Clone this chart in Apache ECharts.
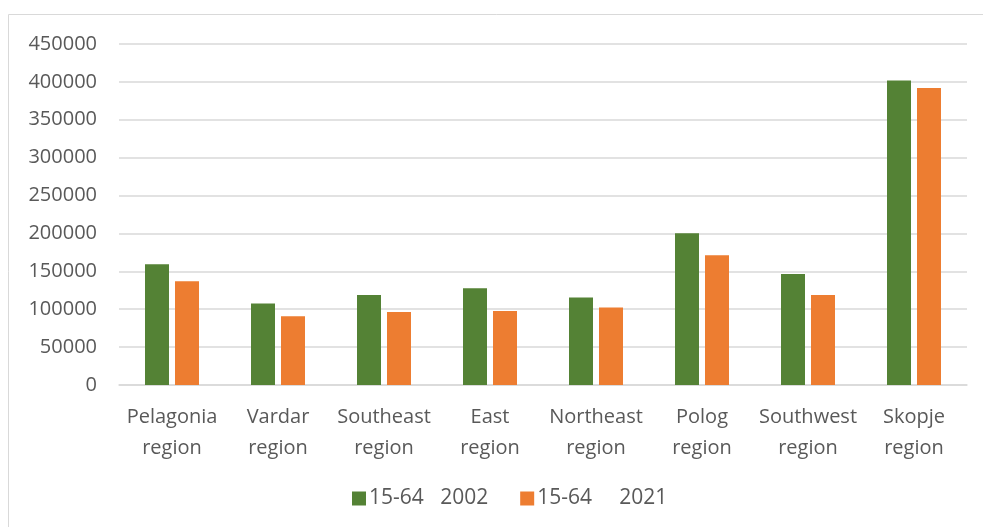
<!DOCTYPE html>
<html><head><meta charset="utf-8">
<script src="https://cdn.jsdelivr.net/npm/echarts@6/dist/echarts.min.js"></script>
<style>html,body{margin:0;padding:0;background:#fff}#c{width:983px;height:527px}</style>
</head><body><div id="c"></div>
<script>
const categories = ['Pelagonia\nregion','Vardar\nregion','Southeast\nregion','East\nregion','Northeast\nregion','Polog\nregion','Southwest\nregion','Skopje\nregion'];
const series2002 = [159500, 107500, 118800, 127700, 115400, 200300, 146600, 401800];
const series2021 = [136900, 90800, 96400, 97800, 102200, 171300, 118900, 392000];
const yTicks = [0, 50000, 100000, 150000, 200000, 250000, 300000, 350000, 400000, 450000];
const names = ['15-64   2002', '15-64     2021'];

const font = 'Open Sans';
const chart = echarts.init(document.getElementById('c'));
chart.setOption({
  animation: false,
  graphic: [{type:'rect', shape:{x:8.5,y:14.5,width:1100,height:700}, style:{fill:'none', stroke:'#d9d9d9', lineWidth:1}}],
  grid: {left:119, right:16, top:44, bottom:142},
  legend: {bottom: 13, left: 347, itemWidth:14, itemHeight:14, itemGap:32, icon:'rect',
    textStyle:{color:'#595959', fontFamily:font, fontSize:21, padding:[0,0,0,-2]}},
  xAxis: {type:'category', data:categories,
    axisLine:{lineStyle:{color:'#d9d9d9', width:1.5}}, axisTick:{show:false},
    axisLabel:{color:'#595959', fontFamily:font, fontSize:20, lineHeight:31, margin:17, interval:0}},
  yAxis: {type:'value', min:yTicks[0], max:yTicks[yTicks.length-1], interval:50000,
    axisLine:{show:false}, axisTick:{show:false},
    splitLine:{lineStyle:{color:'#d9d9d9', width:1.5}},
    axisLabel:{color:'#595959', fontFamily:font, fontSize:20, margin:22, formatter: v => String(v)}},
  series: [
    {name:names[0], type:'bar', data:series2002, barWidth:24, barGap:'25%', itemStyle:{color:'#548235'}},
    {name:names[1], type:'bar', data:series2021, barWidth:24, barGap:'25%', itemStyle:{color:'#ED7D31'}}
  ]
});
</script></body></html>
